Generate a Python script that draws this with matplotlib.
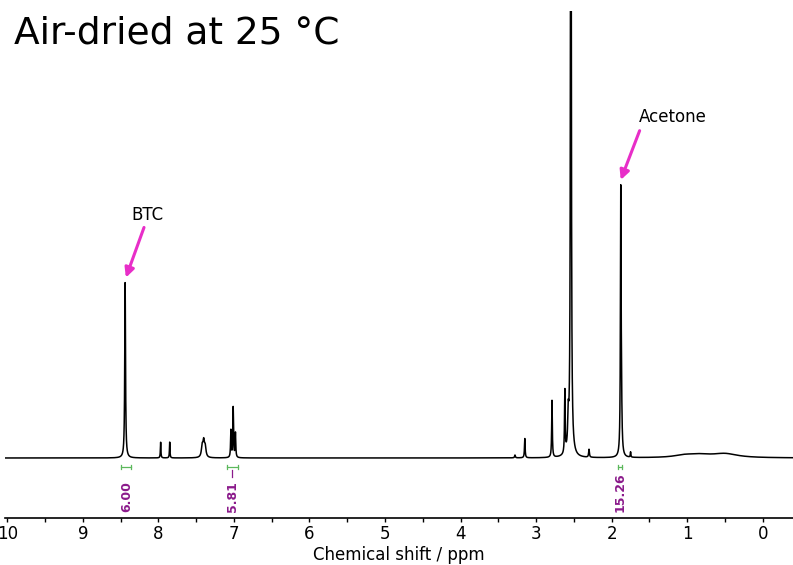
import numpy as np
import matplotlib.pyplot as plt
from matplotlib.ticker import MultipleLocator

# 1H NMR peak list (ppm, relative height with BTC = 100, half-width in ppm)
peak_ppm = [8.44, 7.97, 7.85, 7.42, 7.40, 7.38, 7.04, 7.01, 6.98,
            3.28, 3.15, 2.79, 2.62, 2.575, 2.54, 2.54, 2.30,
            1.88, 1.872, 1.75, 1.05, 0.85, 0.50]
peak_height = [100, 9.0, 9.0, 6.0, 8.5, 5.5, 15.5, 28.5, 14.0,
               1.6, 11.0, 32.5, 36.0, 18.0, 600, 6.0, 4.5,
               140, 30.0, 3.0, 1.0, 1.6, 2.2]
peak_hwhm = [0.006, 0.004, 0.004, 0.012, 0.012, 0.012, 0.005, 0.005, 0.005,
             0.006, 0.005, 0.005, 0.005, 0.008, 0.005, 0.03, 0.006,
             0.005, 0.008, 0.004, 0.15, 0.2, 0.2]

# integration regions (ppm from, ppm to) and their values
integral_ranges = [(8.49, 8.36), (7.09, 6.94), (1.91, 1.86)]
integral_values = ["6.00", "5.81", "15.26"]

ppm = np.linspace(10.2, -0.6, 12000)
intensity = np.zeros_like(ppm)
for p, h, w in zip(peak_ppm, peak_height, peak_hwhm):
    intensity += h * w**2 / ((ppm - p)**2 + w**2)

fig = plt.figure(figsize=(7.93, 5.65), dpi=100)
ax = fig.add_axes([5 / 793, 47 / 565, 788 / 793, 507 / 565])

ax.plot(ppm, intensity, color='black', lw=1.1)
ax.set_xlim(10.03, -0.40)
ax.set_ylim(-34.1, 254)

for side in ['left', 'right', 'top']:
    ax.spines[side].set_visible(False)
ax.spines['bottom'].set_linewidth(1.2)
ax.set_yticks([])
ax.xaxis.set_major_locator(MultipleLocator(1))
ax.xaxis.set_minor_locator(MultipleLocator(0.5))
ax.tick_params(axis='x', which='both', direction='out', length=3, width=1.0,
               labelsize=12, pad=2)
ax.set_xticks(range(0, 11))
ax.set_xticklabels([str(v) for v in range(0, 11)])
ax.set_xlabel("Chemical shift / ppm", fontsize=12, labelpad=2)

# integral brackets and values
green = '#5cb85c'
purple = '#8b1a8b'
for (a, b), val in zip(integral_ranges, integral_values):
    ax.plot([a, b], [-5.1, -5.1], color=green, lw=0.9)
    ax.plot([a, a], [-3.8, -6.4], color=green, lw=0.9)
    ax.plot([b, b], [-3.8, -6.4], color=green, lw=0.9)
    ax.text((a + b) / 2, -30.8, val, rotation=90, ha='center', va='bottom',
            fontsize=9, fontweight='bold', color=purple)
ax.plot([7.03, 7.03], [-7.0, -11.0], color=purple, lw=0.9)

# labels with arrows
pink = '#e82ec8'
ax.text(8.14, 138, "BTC", ha='center', va='center', fontsize=12)
ax.annotate('', xy=(8.43, 102.5), xytext=(8.19, 131),
            arrowprops=dict(arrowstyle='-|>', color=pink, lw=2.2,
                            mutation_scale=14, shrinkA=0, shrinkB=0))
ax.text(1.19, 194, "Acetone", ha='center', va='center', fontsize=12)
ax.annotate('', xy=(1.88, 158), xytext=(1.63, 186),
            arrowprops=dict(arrowstyle='-|>', color=pink, lw=2.2,
                            mutation_scale=14, shrinkA=0, shrinkB=0))

fig.text(14 / 793, 1 - 43 / 565, "Air-dried at 25 °C", fontsize=27,
         ha='left', va='baseline')

fig.savefig('out.png', dpi=100)
